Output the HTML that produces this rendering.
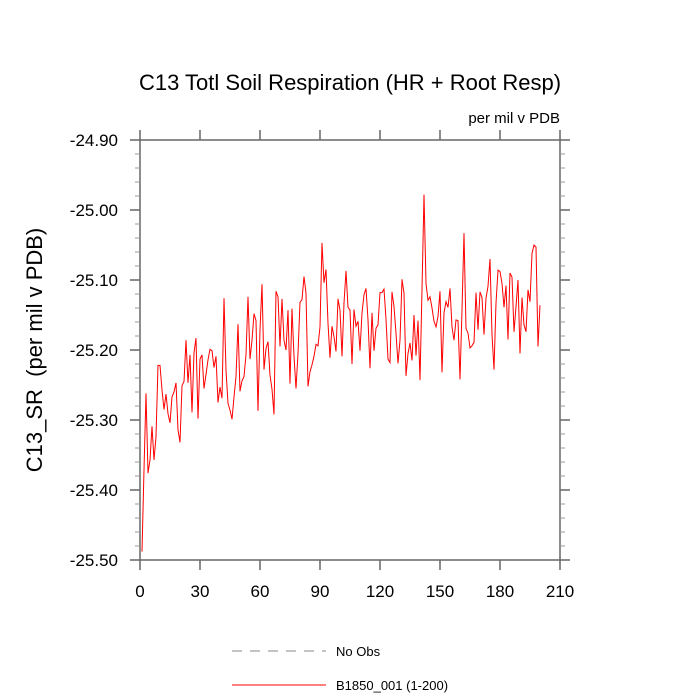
<!DOCTYPE html>
<html><head><meta charset="utf-8"><style>
body{margin:0;background:#fff}
svg{display:block;font-family:"Liberation Sans",Arial,sans-serif}
</style></head><body>
<svg id="chart" width="700" height="700" viewBox="0 0 700 700">
<text x="350" y="90" text-anchor="middle" font-size="22">C13 Totl Soil Respiration (HR + Root Resp)</text>
<text x="560" y="123" text-anchor="end" font-size="15">per mil v PDB</text>
<text transform="translate(42,350) rotate(-90)" text-anchor="middle" font-size="22">C13_SR&#160; (per mil v PDB)</text>
<g id="axes"></g>
<g id="series"></g>
<g>
<line x1="232" y1="651" x2="326" y2="651" stroke="#888" stroke-width="1" stroke-dasharray="10,8"/>
<text x="336" y="656" font-size="13">No Obs</text>
<line x1="232" y1="685" x2="326" y2="685" stroke="#f00" stroke-width="1"/>
<text x="336" y="690" font-size="13">B1850_001 (1-200)</text>
</g>
</svg>
<script>
const xTicks=[0,30,60,90,120,150,180,210];
const yTicks=[-24.9,-25.0,-25.1,-25.2,-25.3,-25.4,-25.5];
const yTickLabels=["-24.90","-25.00","-25.10","-25.20","-25.30","-25.40","-25.50"];
const seriesValues=[
-25.488,-25.371,-25.262,-25.376,-25.357,-25.309,-25.357,-25.324,-25.222,-25.222,
-25.257,-25.285,-25.263,-25.291,-25.304,-25.267,-25.260,-25.247,-25.314,-25.332,
-25.251,-25.245,-25.186,-25.247,-25.207,-25.289,-25.204,-25.183,-25.298,-25.213,
-25.207,-25.255,-25.235,-25.214,-25.199,-25.201,-25.225,-25.209,-25.275,-25.253,
-25.269,-25.126,-25.229,-25.276,-25.286,-25.299,-25.267,-25.238,-25.163,-25.259,
-25.244,-25.238,-25.207,-25.124,-25.213,-25.186,-25.148,-25.158,-25.287,-25.171,
-25.106,-25.228,-25.198,-25.188,-25.236,-25.256,-25.292,-25.116,-25.124,
-25.195,-25.127,-25.186,-25.200,-25.143,-25.248,-25.141,-25.209,-25.255,-25.205,
-25.132,-25.128,-25.095,-25.119,-25.252,-25.231,-25.221,-25.209,-25.192,-25.194,
-25.167,-25.047,-25.104,-25.085,-25.162,-25.211,-25.166,-25.181,-25.202,-25.127,
-25.143,-25.209,-25.133,-25.087,-25.139,-25.143,-25.220,-25.142,-25.166,-25.159,
-25.201,-25.147,-25.121,-25.112,-25.157,-25.226,-25.147,-25.201,-25.169,-25.164,
-25.118,-25.118,-25.113,-25.156,-25.213,-25.218,-25.117,-25.138,-25.176,-25.219,
-25.186,-25.099,-25.119,-25.237,-25.205,-25.190,-25.215,-25.150,-25.208,-25.158,-25.243,
-25.114,-24.978,-25.105,-25.129,-25.124,-25.140,-25.159,-25.167,-25.152,-25.116,
-25.232,-25.147,-25.131,-25.139,-25.112,-25.167,-25.186,-25.157,-25.158,-25.242,
-25.143,-25.033,-25.169,-25.176,-25.197,-25.194,-25.189,-25.118,-25.171,-25.117,
-25.125,-25.178,-25.126,-25.109,-25.070,-25.178,-25.228,-25.133,-25.086,-25.088,
-25.105,-25.139,-25.108,-25.185,-25.090,-25.096,-25.174,-25.138,-25.100,-25.205,
-25.125,-25.164,-25.174,-25.114,-25.131,-25.062,-25.050,-25.053,-25.195,-25.136];
const X0=140,X1=560,Y0=140,Y1=560,XMIN=0,XMAX=210,YMAX=-24.9,YMIN=-25.5;
const sx=v=>X0+(v-XMIN)/(XMAX-XMIN)*(X1-X0);
const sy=v=>Y0+(YMAX-v)/(YMAX-YMIN)*(Y1-Y0);
const NS="http://www.w3.org/2000/svg";
const axes=document.getElementById('axes');
function mk(tag,attrs,parent){const e=document.createElementNS(NS,tag);for(const k in attrs)e.setAttribute(k,attrs[k]);parent.appendChild(e);return e;}
const frame=mk('rect',{x:X0,y:Y0,width:X1-X0,height:Y1-Y0,fill:'none',stroke:'#666','stroke-width':1.5},axes);


xTicks.forEach(t=>{
  const x=sx(t);
  const b=mk('line',{x1:x,y1:Y1,x2:x,y2:Y1+10,stroke:'#666','stroke-width':1.5},axes);
  
  
  const tp=mk('line',{x1:x,y1:Y0,x2:x,y2:Y0-10,stroke:'#666','stroke-width':1.5},axes);
  
  
  const lb=mk('text',{x:x,y:Y1+37,'text-anchor':'middle','font-size':17},axes);
  lb.textContent=String(t);
  
  
});
yTicks.forEach((t,i)=>{
  const y=sy(t);
  const l=mk('line',{x1:X0-10,y1:y,x2:X0,y2:y,stroke:'#666','stroke-width':1.5},axes);
  
  
  const r=mk('line',{x1:X1,y1:y,x2:X1+10,y2:y,stroke:'#666','stroke-width':1.5},axes);
  
  
  const lb=mk('text',{x:X0-22,y:y+6,'text-anchor':'end','font-size':17},axes);
  lb.textContent=yTickLabels[i];
  
  
  if(i<yTicks.length-1){for(let m=1;m<5;m++){const ym=sy(t-m*0.02);
    const a=mk('line',{x1:X0-5,y1:ym,x2:X0,y2:ym,stroke:'#999','stroke-width':1},axes);
    
    
    const c=mk('line',{x1:X1,y1:ym,x2:X1+5,y2:ym,stroke:'#999','stroke-width':1},axes);
    
    }}
});
const pts=seriesValues.map((v,i)=>sx(i+1).toFixed(1)+','+sy(v).toFixed(1)).join(' ');
const pl=mk('polyline',{points:pts,fill:'none',stroke:'#f00','stroke-width':1},document.getElementById('series'));


</script>
</body></html>
